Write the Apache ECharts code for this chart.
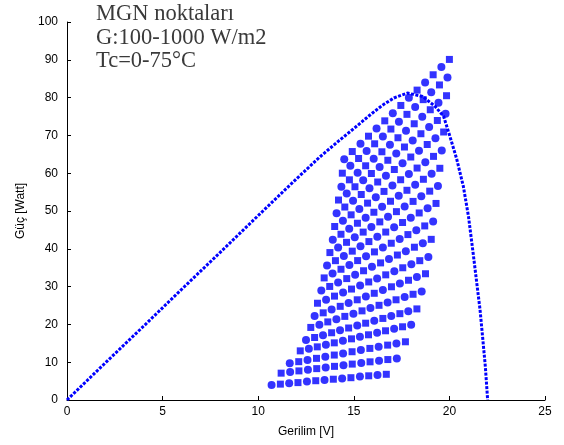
<!DOCTYPE html>
<html>
<head>
<meta charset="utf-8">
<script src="https://cdn.jsdelivr.net/npm/echarts@6/dist/echarts.min.js"></script>
<style>html,body{margin:0;padding:0;background:#fff;}#c{width:564px;height:445px;}</style>
</head>
<body>
<div id="c"></div>
<script>
// Texts
const xName = 'Gerilim [V]';
const yName = 'Güç [Watt]';
const noteLines = ['MGN noktaları', 'G:100-1000 W/m2', 'Tc=0-75°C'];
const xTicks = [0, 5, 10, 15, 20, 25];
const yTicks = [0, 10, 20, 30, 40, 50, 60, 70, 80, 90, 100];

// P-V curve (dotted)
const curveV = [0, 2, 4, 6, 8, 10, 12, 13.2, 14.2, 15, 15.8, 16.5, 17.1, 17.8, 18.6, 19.25, 19.7, 20.03, 20.38, 20.73, 21.0, 21.25, 21.43, 21.6, 21.74, 21.88, 22.0];
const curveP = [0, 9.8, 19.5, 29.3, 39.0, 48.8, 58.5, 64.2, 68.5, 71.8, 75.2, 78.0, 79.9, 81.2, 80.3, 77.7, 75.0, 69.7, 63.8, 56.5, 48.5, 38.5, 31.0, 24.0, 16.5, 8.8, 0];

// MPP points, one row per irradiance level
const g100V = [10.7, 11.16, 11.62, 12.08, 12.55, 13.01, 13.47, 13.93, 14.39, 14.85, 15.32, 15.78, 16.24, 16.7];
const g100P = [4.0, 4.2, 4.4, 4.6, 4.9, 5.1, 5.3, 5.5, 5.7, 5.9, 6.2, 6.4, 6.6, 6.8];
const g150V = [11.2, 11.67, 12.13, 12.6, 13.06, 13.53, 13.99, 14.46, 14.92, 15.39, 15.85, 16.32, 16.78, 17.25];
const g150P = [7.1, 7.4, 7.7, 8.0, 8.3, 8.6, 8.9, 9.2, 9.5, 9.8, 10.1, 10.4, 10.7, 11.0];
const g200V = [11.65, 12.12, 12.58, 13.05, 13.51, 13.98, 14.44, 14.91, 15.37, 15.84, 16.3, 16.77, 17.23, 17.7];
const g200P = [9.7, 10.14, 10.58, 11.02, 11.45, 11.89, 12.33, 12.77, 13.21, 13.65, 14.08, 14.52, 14.96, 15.4];
const g250V = [12.2, 12.65, 13.09, 13.54, 13.98, 14.43, 14.88, 15.32, 15.77, 16.22, 16.66, 17.11, 17.55, 18.0];
const g250P = [13.0, 13.53, 14.06, 14.59, 15.12, 15.65, 16.18, 16.72, 17.25, 17.78, 18.31, 18.84, 19.37, 19.9];
const g300V = [12.5, 12.95, 13.39, 13.84, 14.28, 14.73, 15.18, 15.62, 16.07, 16.52, 16.96, 17.41, 17.85, 18.3];
const g300P = [15.9, 16.53, 17.16, 17.79, 18.42, 19.05, 19.68, 20.32, 20.95, 21.58, 22.21, 22.84, 23.47, 24.1];
const g350V = [12.75, 13.2, 13.64, 14.09, 14.53, 14.98, 15.43, 15.87, 16.32, 16.77, 17.21, 17.66, 18.1, 18.55];
const g350P = [19.2, 19.93, 20.66, 21.39, 22.12, 22.85, 23.58, 24.32, 25.05, 25.78, 26.51, 27.24, 27.97, 28.7];
const g400V = [12.95, 13.4, 13.84, 14.29, 14.73, 15.18, 15.63, 16.07, 16.52, 16.97, 17.41, 17.86, 18.3, 18.75];
const g400P = [22.2, 23.06, 23.92, 24.78, 25.65, 26.51, 27.37, 28.23, 29.09, 29.95, 30.82, 31.68, 32.54, 33.4];
const g450V = [13.1, 13.55, 13.99, 14.44, 14.88, 15.33, 15.78, 16.22, 16.67, 17.12, 17.56, 18.01, 18.45, 18.9];
const g450P = [25.6, 26.54, 27.48, 28.42, 29.35, 30.29, 31.23, 32.17, 33.11, 34.05, 34.98, 35.92, 36.86, 37.8];
const g500V = [13.3, 13.74, 14.18, 14.63, 15.07, 15.51, 15.95, 16.4, 16.84, 17.28, 17.72, 18.17, 18.61, 19.05];
const g500P = [29.0, 30.04, 31.08, 32.12, 33.15, 34.19, 35.23, 36.27, 37.31, 38.35, 39.38, 40.42, 41.46, 42.5];
const g550V = [13.45, 13.89, 14.33, 14.77, 15.2, 15.64, 16.08, 16.52, 16.96, 17.4, 17.83, 18.27, 18.71, 19.15];
const g550P = [32.3, 33.45, 34.59, 35.74, 36.88, 38.03, 39.18, 40.32, 41.47, 42.62, 43.76, 44.91, 46.05, 47.2];
const g600V = [13.6, 14.04, 14.48, 14.92, 15.35, 15.79, 16.23, 16.67, 17.11, 17.55, 17.98, 18.42, 18.86, 19.3];
const g600P = [35.6, 36.86, 38.12, 39.38, 40.65, 41.91, 43.17, 44.43, 45.69, 46.95, 48.22, 49.48, 50.74, 52.0];
const g650V = [13.75, 14.18, 14.62, 15.05, 15.49, 15.92, 16.36, 16.79, 17.23, 17.66, 18.1, 18.53, 18.97, 19.4];
const g650P = [39.0, 40.35, 41.71, 43.06, 44.42, 45.77, 47.12, 48.48, 49.83, 51.18, 52.54, 53.89, 55.25, 56.6];
const g700V = [13.9, 14.33, 14.76, 15.19, 15.62, 16.05, 16.48, 16.92, 17.35, 17.78, 18.21, 18.64, 19.07, 19.5];
const g700P = [42.4, 43.85, 45.31, 46.76, 48.22, 49.67, 51.12, 52.58, 54.03, 55.48, 56.94, 58.39, 59.85, 61.3];
const g750V = [14.0, 14.43, 14.86, 15.29, 15.72, 16.15, 16.58, 17.02, 17.45, 17.88, 18.31, 18.74, 19.17, 19.6];
const g750P = [45.9, 47.45, 48.99, 50.54, 52.08, 53.63, 55.18, 56.72, 58.27, 59.82, 61.36, 62.91, 64.45, 66.0];
const g800V = [14.1, 14.53, 14.96, 15.39, 15.82, 16.25, 16.68, 17.12, 17.55, 17.98, 18.41, 18.84, 19.27, 19.7];
const g800P = [49.4, 51.05, 52.71, 54.36, 56.02, 57.67, 59.32, 60.98, 62.63, 64.28, 65.94, 67.59, 69.25, 70.9];
const g850V = [14.2, 14.63, 15.06, 15.49, 15.92, 16.35, 16.78, 17.22, 17.65, 18.08, 18.51, 18.94, 19.37, 19.8];
const g850P = [52.9, 54.65, 56.41, 58.16, 59.92, 61.67, 63.42, 65.18, 66.93, 68.68, 70.44, 72.19, 73.95, 75.7];
const g900V = [14.35, 14.77, 15.2, 15.62, 16.04, 16.47, 16.89, 17.31, 17.73, 18.16, 18.58, 19.0, 19.43, 19.85];
const g900P = [56.4, 58.25, 60.11, 61.96, 63.82, 65.67, 67.52, 69.38, 71.23, 73.08, 74.94, 76.79, 78.65, 80.5];
const g950V = [14.4, 14.82, 15.25, 15.67, 16.09, 16.52, 16.94, 17.36, 17.78, 18.21, 18.63, 19.05, 19.48, 19.9];
const g950P = [60.0, 61.95, 63.89, 65.84, 67.78, 69.73, 71.68, 73.62, 75.57, 77.52, 79.46, 81.41, 83.35, 85.3];
const g1000V = [14.5, 14.92, 15.35, 15.77, 16.19, 16.62, 17.04, 17.46, 17.88, 18.31, 18.73, 19.15, 19.58, 20.0];
const g1000P = [63.7, 65.73, 67.76, 69.79, 71.82, 73.85, 75.88, 77.92, 79.95, 81.98, 84.01, 86.04, 88.07, 90.1];

const rowsV = [g100V, g150V, g200V, g250V, g300V, g350V, g400V, g450V, g500V, g550V, g600V, g650V, g700V, g750V, g800V, g850V, g900V, g950V, g1000V];
const rowsP = [g100P, g150P, g200P, g250P, g300P, g350P, g400P, g450P, g500P, g550P, g600P, g650P, g700P, g750P, g800P, g850P, g900P, g950P, g1000P];

const curveData = curveV.map((v, i) => [v, curveP[i]]);
const circlePts = [], squarePts = [];
rowsV.forEach((row, r) => {
  row.forEach((v, i) => {
    ((i + r) % 2 === 0 ? circlePts : squarePts).push([v, rowsP[r][i]]);
  });
});

const BLUE = '#0000ff';
const chart = echarts.init(document.getElementById('c'), null, {renderer: 'canvas'});
const axisCommon = {
  axisLine: {show: true, lineStyle: {color: '#000', width: 1}},
  axisTick: {show: true, inside: true, length: 4, lineStyle: {color: '#000'}},
  splitLine: {show: false},
  nameTextStyle: {fontFamily: 'Liberation Sans', fontSize: 12, color: '#000'},
  axisLabel: {fontFamily: 'Liberation Sans', fontSize: 12, color: '#000'}
};
chart.setOption({
  animation: false,
  backgroundColor: '#fff',
  grid: {left: 67, right: 19, top: 22, bottom: 45, containLabel: false, outerBoundsMode: 'none'},
  xAxis: Object.assign({}, axisCommon, {
    type: 'value', min: xTicks[0], max: xTicks[xTicks.length - 1], interval: 5,
    name: xName, nameLocation: 'middle', nameGap: 26,
    axisLabel: Object.assign({}, axisCommon.axisLabel, {margin: 6})
  }),
  yAxis: Object.assign({}, axisCommon, {
    type: 'value', min: yTicks[0], max: yTicks[yTicks.length - 1], interval: 10,
    name: yName, nameLocation: 'middle', nameGap: 40, nameRotate: 90,
    axisLabel: Object.assign({}, axisCommon.axisLabel, {margin: 9})
  }),
  graphic: noteLines.map((t, i) => ({
    type: 'text', left: 96, top: 3 + i * 23.3,
    style: {text: t, fontFamily: 'Liberation Serif', fontSize: 22.5, fill: '#3a3a3a'}
  })),
  series: [
    {
      type: 'line', data: curveData, showSymbol: false, smooth: false,
      lineStyle: {color: BLUE, width: 3, type: [3, 1.5], cap: 'butt'}
    },
    {
      type: 'scatter', data: circlePts, symbol: 'circle', symbolSize: 8,
      itemStyle: {color: BLUE}
    },
    {
      type: 'scatter', data: squarePts, symbol: 'rect', symbolSize: 7,
      itemStyle: {color: BLUE}
    }
  ]
});
</script>
</body>
</html>
